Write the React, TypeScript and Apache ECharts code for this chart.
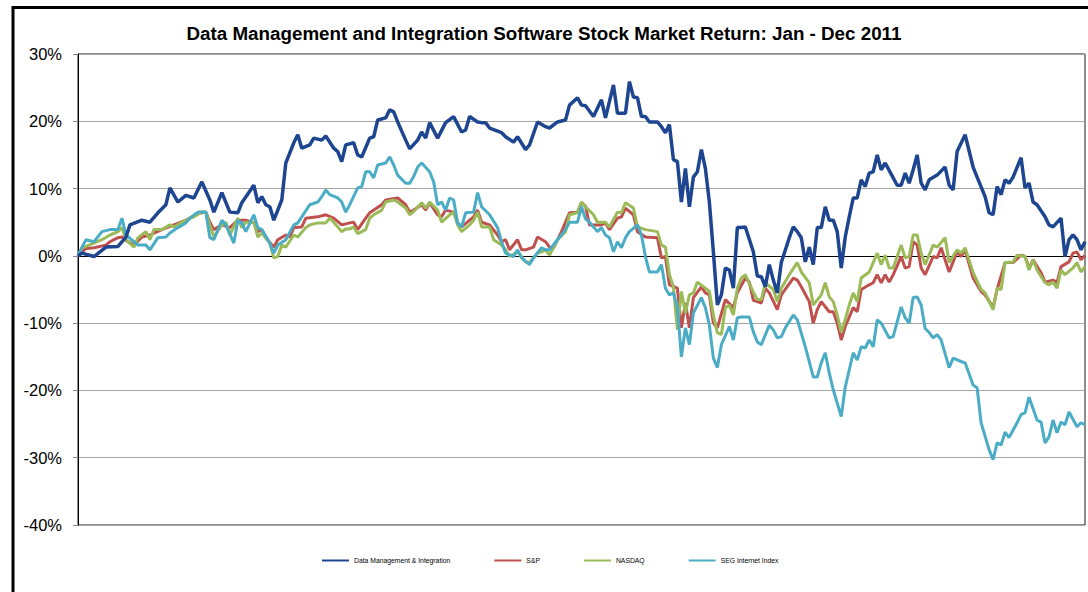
import React, { useEffect, useRef } from "react";
import * as echarts from "echarts";

const TITLE = "Data Management and Integration Software Stock Market Return: Jan - Dec 2011";
const SERIES_NAMES = ["Data Management & Integration", "S&P", "NASDAQ", "SEG Internet Index"];
const Y_MIN = -40;
const Y_MAX = 30;
const Y_STEP = 10;
const LAST_DAY = 252;

// [trading day, % return]
const dmi: [number, number][] = [
  [0,0],[1,0.4],[4,-0.1],[7,1.3],[10,1.4],[12,2.8],[13,4.6],[16,5.3],[18,5],[20,6.4],[22,7.6],[23,10.1],[25,8],[27,9],[29,8.6],[31,11],[33,8.3],[34,6.5],[36,9.4],[38,6.5],[40,6.4],[41,7.9],[44,10.5],[45,7.9],[46,8.8],[47,7.6],[48,7.3],[49,5.3],[51,8.3],[52,13.8],[54,16.8],[55,18],[56,16],[58,16.5],[59,17.5],[61,17.2],[62,17.8],[64,16],[65,15.5],[66,14],[67,16.5],[69,16.8],[70,15],[71,14.7],[73,17.5],[74,17.7],[75,20.2],[77,20.5],[78,21.7],[79,21.4],[80,19.9],[82,17.2],[83,15.9],[85,17.2],[86,18.4],[87,17.5],[88,19.8],[90,17.5],[92,19.8],[94,20.7],[96,18.4],[97,18.7],[98,20.7],[100,19.9],[101,19.8],[102,19.8],[103,19],[106,18.3],[107,17.7],[109,16.9],[110,17.7],[112,15.8],[113,16.5],[115,19.9],[117,19.2],[118,19],[120,19.9],[122,20.2],[123,22.4],[125,23.5],[126,22.4],[127,22.3],[129,20.7],[131,23.2],[132,20.5],[134,25.4],[135,21.2],[137,21.2],[138,25.9],[139,23.6],[140,23.5],[141,20.7],[142,20.7],[143,19.9],[145,19.9],[146,19.2],[147,18.3],[148,19.5],[149,14.3],[150,14],[151,8],[152,13],[153,7.3],[154,11.7],[155,12.5],[156,15.8],[157,13],[158,8],[159,0.6],[160,-7.3],[161,-5.8],[162,-1.8],[163,-2.1],[164,-4.8],[165,4.2],[166,4.2],[167,4.3],[169,0.6],[170,-3],[171,-3.1],[172,-4.6],[173,-1.3],[174,-3.6],[175,-5.5],[176,-1],[178,2.7],[179,4.3],[180,3.6],[181,2.7],[182,-0.9],[183,1.3],[184,-1.3],[185,4.2],[186,4.2],[187,7.3],[188,5.3],[189,5.3],[190,3.6],[191,-1.8],[192,2.8],[193,5.8],[194,8.6],[195,8.6],[196,11.3],[197,10.3],[198,12.3],[199,12.5],[200,15],[201,12.8],[202,13.8],[204,11.6],[205,10.5],[206,10.5],[207,12.3],[208,10.8],[209,12.8],[210,15],[211,10.8],[212,9.8],[213,11.3],[215,12],[217,13.2],[218,10.5],[219,9.8],[220,15.5],[222,18],[224,13.2],[225,11.7],[227,8.8],[228,6.4],[229,6.1],[230,10.3],[231,9.1],[232,11.3],[233,10.8],[234,11.7],[236,14.6],[237,10.1],[238,10.8],[239,8],[240,7.6],[242,5.8],[243,4.6],[244,4.3],[246,5.6],[247,-0.1],[248,2.4],[249,3.1],[250,2.4],[251,0.9],[252,2.1]
];

const sp: [number, number][] = [
  [0,0],[2,1.1],[4,1.2],[7,1.6],[8,2.1],[10,2.7],[11,2.8],[12,2.3],[14,1.6],[16,2.8],[18,3.1],[21,3.9],[24,4.6],[27,5.3],[30,6.3],[32,6.5],[33,5],[34,3.9],[36,4.6],[38,4.2],[40,5.3],[42,5.3],[44,4.9],[45,3.6],[46,3.9],[47,2.7],[49,1.3],[50,2.4],[52,3.1],[53,2.8],[54,4.2],[56,4.3],[57,5.6],[60,5.8],[62,6.1],[64,5.6],[66,4.6],[68,4.9],[69,5],[70,3.9],[72,5.6],[73,6.4],[76,7.6],[77,8.3],[80,8.6],[82,7.6],[83,6.5],[84,6.8],[86,7.6],[87,6.8],[88,7.9],[90,6.1],[91,5.8],[92,6.8],[94,6.5],[95,4.9],[96,4.3],[99,5.8],[100,6.8],[101,5],[103,4.6],[105,3.1],[106,2.1],[107,2.4],[108,0.9],[110,2.4],[111,0.9],[112,0.9],[114,1.3],[115,2.8],[117,2.1],[118,1.3],[119,1.2],[121,3.6],[123,6.4],[125,6.5],[126,7.9],[127,7.4],[128,4.6],[131,4.6],[132,4.9],[133,3.9],[135,5.6],[136,5.8],[137,7.1],[139,6.1],[140,3.6],[142,2.8],[145,2.7],[146,-0.3],[147,-0.1],[148,-4.3],[150,-4.8],[151,-10.7],[152,-7],[153,-10.7],[154,-6.2],[156,-4.6],[157,-5.5],[158,-5.8],[159,-10],[160,-10.7],[162,-6.5],[164,-7.7],[165,-5.5],[167,-3.3],[168,-3.9],[169,-6.6],[170,-6.8],[171,-7],[172,-4.8],[173,-5.5],[175,-8],[176,-5.8],[179,-3.3],[180,-3.6],[181,-4.6],[183,-6.8],[184,-10],[185,-8],[186,-6.8],[188,-8.3],[189,-8.3],[190,-10],[191,-12.5],[192,-10.5],[194,-7.7],[195,-8.3],[196,-5],[198,-4.3],[199,-4],[200,-2.8],[201,-4],[202,-2.8],[203,-3.9],[204,-2.8],[206,-0.1],[207,-1.8],[208,-1.6],[209,2.1],[210,1.6],[211,-1.8],[212,-2.8],[214,-0.1],[215,-0.3],[216,1.2],[218,-2.4],[220,0.6],[221,-0.1],[222,0.9],[224,-3.3],[226,-5.3],[227,-5.8],[229,-7.7],[230,-5],[232,-1],[234,-1],[236,0.1],[237,-0.1],[238,-1.8],[239,-0.6],[241,-2.5],[242,-3.9],[244,-3.6],[245,-4],[246,-1.6],[248,-0.9],[249,0.4],[250,0.6],[251,-0.6],[252,0.1]
];

const nasdaq: [number, number][] = [
  [0,0],[1,1.2],[4,1.9],[6,2.4],[8,3.1],[10,3.6],[11,4.2],[12,2.4],[14,1.3],[15,2.7],[17,3.6],[18,2.4],[19,3.9],[21,3.9],[23,4.6],[24,4.3],[26,5],[27,5.3],[29,5.8],[31,6.5],[32,6.5],[33,4.6],[34,2.8],[36,4.6],[37,5],[38,3.1],[40,5.6],[41,4.2],[42,5],[44,5],[45,2.8],[46,3.4],[48,1.9],[49,-0.3],[50,-0.1],[51,1.6],[52,1.3],[54,3.1],[55,2.8],[57,4.2],[58,4.6],[60,4.9],[62,4.9],[63,5.6],[64,5],[66,3.6],[67,4],[68,4],[69,4.3],[70,3.3],[72,3.9],[73,5.6],[74,6.1],[76,6.8],[77,8],[79,8.3],[80,8],[82,7.1],[83,6.1],[84,6.6],[86,7.9],[87,7.1],[88,8],[90,6.8],[91,5],[93,6.1],[94,6.5],[95,4.6],[96,3.6],[98,4.6],[99,5.3],[100,6.5],[101,4.3],[103,4.3],[104,2.4],[106,1.6],[107,0.9],[108,-0.1],[110,0.6],[111,-0.1],[112,-0.9],[113,-1],[115,0.4],[116,0.6],[117,0.9],[118,0.1],[120,2.4],[122,3.6],[123,6.1],[125,6.4],[126,8],[127,7.3],[129,6.1],[130,5],[131,5],[132,5],[133,4.3],[135,6.5],[136,6.4],[137,7.9],[139,7.1],[140,4.3],[142,3.9],[145,3.6],[146,1.6],[147,1.3],[148,-2.8],[149,-4.6],[150,-11],[151,-5.3],[152,-8.5],[153,-5.8],[154,-5.5],[155,-3.9],[157,-4.8],[158,-5.3],[159,-8.8],[160,-11.4],[161,-11.7],[162,-7.7],[163,-7.3],[164,-8.8],[165,-4.8],[166,-3.3],[167,-2.8],[169,-5.4],[170,-6.5],[171,-6.5],[172,-4],[174,-5],[175,-6.8],[176,-4.8],[178,-2.8],[180,-1],[181,-2.4],[183,-4],[184,-7.3],[186,-5.8],[187,-4],[188,-6.1],[189,-6.8],[190,-8.8],[191,-11.4],[192,-9.5],[193,-7.3],[194,-5.5],[195,-6.8],[196,-3.3],[198,-2.4],[199,-1],[200,0.4],[201,-1.3],[202,0.1],[203,-1.8],[204,-1.8],[206,1.6],[207,-0.3],[208,-0.1],[209,3.1],[210,3.1],[211,0.4],[212,-1.3],[214,1.6],[215,1.3],[217,2.7],[218,-1],[220,0.9],[221,0.4],[222,1.2],[224,-2.5],[226,-5],[227,-5.5],[229,-8],[230,-4.8],[231,-5],[232,-1],[234,-0.9],[235,0.1],[237,-0.1],[238,-2.1],[239,-0.6],[240,-2.1],[242,-4],[243,-4.3],[244,-3.9],[245,-4.8],[246,-2.1],[247,-2.8],[249,-1.8],[250,-1],[251,-2.4],[252,-1.6]
];

const seg: [number, number][] = [
  [0,0],[1,1.3],[2,2.4],[4,2.1],[6,3.6],[8,3.9],[10,3.9],[11,5.6],[12,3.1],[14,2.1],[15,1.6],[17,1.6],[18,0.9],[20,2.7],[22,2.8],[23,3.4],[25,4.2],[27,4.9],[28,5.6],[30,6.5],[32,6.5],[33,2.7],[34,2.4],[36,5.3],[37,4.6],[39,1.9],[40,5.3],[41,4.9],[42,3.6],[44,6.1],[45,4.2],[46,3.9],[48,1.9],[49,0.4],[50,1.6],[52,2.4],[54,4.6],[55,4.9],[58,7.6],[60,8],[61,8.8],[62,9.8],[63,9.1],[65,8.6],[66,8],[67,6.5],[68,7.6],[70,10.1],[71,10.3],[72,12.5],[73,12.5],[74,11.6],[75,13.5],[77,13.8],[78,14.7],[79,13.5],[80,12],[82,10.8],[83,10.8],[84,11.8],[85,13.2],[86,13.8],[88,12.5],[89,11],[90,7.6],[91,8],[92,6.8],[93,8.6],[94,8.3],[95,4.9],[96,4.3],[97,6.4],[99,6.5],[100,9.4],[101,7.3],[103,6.1],[105,4.2],[106,2.1],[107,0.4],[109,-0.1],[110,0.9],[111,-0.3],[113,-1.3],[114,-0.3],[116,1.2],[117,0.9],[118,0.9],[120,2.4],[122,3.9],[123,5],[125,5],[126,7.3],[127,5.5],[128,5],[130,3.6],[131,4.2],[132,3.1],[133,2.7],[134,0.6],[135,2.1],[136,1.2],[137,2.7],[138,3.6],[140,4.6],[141,3.1],[142,-0.1],[143,-2.4],[145,-2.4],[146,-1.3],[147,-4.8],[148,-5.8],[149,-5.5],[150,-7.7],[151,-15],[152,-10.7],[153,-13.2],[154,-8.5],[156,-6.2],[157,-7.7],[158,-10.3],[159,-15.2],[160,-16.6],[161,-13.2],[163,-10.5],[164,-12.5],[165,-9.2],[166,-9.1],[168,-9.1],[169,-11.3],[170,-12.8],[171,-13.2],[173,-10.3],[174,-11],[175,-12.2],[176,-12],[177,-10.7],[179,-8.8],[180,-9.5],[182,-13.5],[184,-18],[185,-18],[186,-15.9],[187,-14.4],[188,-17.4],[189,-19.9],[191,-23.9],[192,-19.5],[194,-14.4],[195,-15.5],[196,-13.5],[197,-13.7],[198,-12.5],[199,-13.5],[200,-9.5],[201,-10],[203,-12.2],[204,-12],[206,-7.6],[207,-9.2],[208,-10],[209,-6.2],[210,-6.1],[211,-7.3],[212,-10.8],[213,-11.4],[214,-12.2],[215,-11.7],[216,-12.5],[218,-16.6],[219,-15.2],[221,-15.7],[222,-15.9],[224,-19.2],[225,-19.6],[226,-24.8],[228,-28.8],[229,-30.3],[230,-27.8],[231,-28.1],[232,-26.2],[233,-27],[235,-24.8],[236,-23.6],[237,-23.3],[238,-21],[240,-24.4],[241,-24.7],[242,-27.8],[243,-26.9],[244,-24.4],[245,-26.3],[246,-24.7],[247,-25.1],[248,-23.2],[250,-25.4],[251,-24.8],[252,-25.1]
];

const COLORS = ["#1e4690", "#c0504d", "#9bbb59", "#4bacc6"];

export default function App() {
  const ref = useRef<HTMLDivElement>(null);

  useEffect(() => {
    if (!ref.current) return;
    const chart = echarts.init(ref.current, null, { renderer: "svg" });
    const font = "Arial, 'Liberation Sans', Helvetica, sans-serif";
    const mk = (idx: number, data: [number, number][], width: number, z: number) => ({
      name: SERIES_NAMES[idx],
      type: "line",
      data,
      showSymbol: false,
      symbol: "none",
      clip: true,
      z,
      lineStyle: { color: COLORS[idx], width },
      itemStyle: { color: COLORS[idx] },
    });
    chart.setOption({
      animation: false,
      backgroundColor: "#ffffff",
      textStyle: { fontFamily: font },
      grid: {
        left: 78,
        top: 54,
        width: 1007,
        height: 471,
        show: true,
        borderColor: "#1a1a1a",
        borderWidth: 1,
        backgroundColor: "transparent",
      },
      graphic: [
        {
          type: "rect",
          shape: { x: 13, y: 7.5, width: 1300, height: 800 },
          style: { fill: "none", stroke: "#000", lineWidth: 3 },
          silent: true,
        },
        {
          type: "text",
          x: 544,
          y: 33,
          style: {
            text: TITLE,
            fontFamily: font,
            fontSize: 18.8,
            fontWeight: "bold",
            fill: "#000",
            textAlign: "center",
            textVerticalAlign: "middle",
          },
        },
      ],
      legend: {
        data: SERIES_NAMES,
        left: 317,
        top: 552,
        padding: 5,
        icon: "rect",
        itemWidth: 27,
        itemHeight: 2,
        itemGap: 44,
        textStyle: { fontSize: 6.8, color: "#000", fontFamily: font },
      },
      xAxis: {
        type: "value",
        min: 0,
        max: LAST_DAY,
        axisLine: { show: true, onZero: true, lineStyle: { color: "#000", width: 1 } },
        axisTick: { show: false },
        axisLabel: { show: false },
        splitLine: { show: false },
      },
      yAxis: {
        type: "value",
        min: Y_MIN,
        max: Y_MAX,
        interval: Y_STEP,
        axisLine: { show: true, lineStyle: { color: "#000", width: 1 } },
        axisTick: { show: true, length: 5, lineStyle: { color: "#888" } },
        axisLabel: {
          formatter: "{value}%",
          fontSize: 16.5,
          color: "#000",
          margin: 16,
          fontFamily: font,
        },
        splitLine: { show: true, lineStyle: { color: "#a6a6a6", width: 1 } },
      },
      series: [
        mk(1, sp, 3, 2),
        mk(2, nasdaq, 3, 3),
        mk(3, seg, 3, 4),
        mk(0, dmi, 3.5, 5),
      ],
    });
    return () => chart.dispose();
  }, []);

  return (
    <div
      ref={ref}
      style={{ position: "fixed", left: 0, top: 0, width: 1088, height: 592, background: "#fff" }}
    />
  );
}
